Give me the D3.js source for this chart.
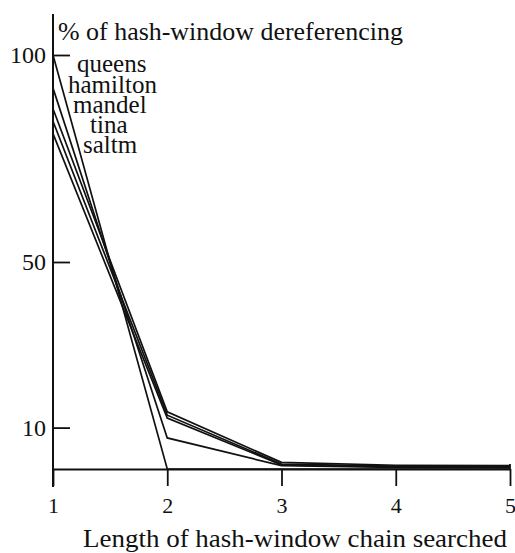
<!DOCTYPE html>
<html>
<head>
<meta charset="utf-8">
<script src="https://cdn.jsdelivr.net/npm/d3@7"></script>
<style>
  html, body { margin: 0; padding: 0; background: #fff; }
  svg { display: block; }
  text { font-family: "Liberation Serif", "Times New Roman", serif; fill: #111; }
</style>
</head>
<body>
<svg id="chart" width="515" height="553"></svg>
<script>
// ---- data ----
const chainLength = [1, 2, 3, 4, 5];
const queens   = [100, 0,    0,   0,   0];
const hamilton = [92,  7.5,  0.8, 0.4, 0.3];
const mandel   = [87,  13.8, 1.6, 0.9, 0.8];
const tina     = [84,  13.0, 1.2, 0.7, 0.6];
const saltm    = [81,  12.3, 1.0, 0.5, 0.5];
const seriesNames = ["queens", "hamilton", "mandel", "tina", "saltm"];
const yTickValues = [10, 50, 100];
const xTickValues = [1, 2, 3, 4, 5];
const titleText = "% of hash-window dereferencing";
const xLabelText = "Length of hash-window chain searched";

const seriesValues = [queens, hamilton, mandel, tina, saltm];

const svg = d3.select("#chart");
const x = d3.scaleLinear().domain([1, 5]).range([53, 510]);
const y = d3.scaleLinear().domain([0, 100]).range([469, 55]);

// y axis (ticks pointing inward)
const yAxis = d3.axisLeft(y).tickValues(yTickValues).tickSizeInner(-17).tickSizeOuter(0).tickPadding(7);
const gy = svg.append("g").attr("transform", `translate(${x(1)},0)`).call(yAxis);
gy.select(".domain").remove();
gy.selectAll(".tick line").attr("stroke", "#111").attr("stroke-width", 1.8);
gy.selectAll(".tick text").attr("font-size", 24).attr("font-family", "Liberation Serif").attr("fill", "#111");
svg.append("line").attr("x1", x(1)).attr("x2", x(1)).attr("y1", 14).attr("y2", 487)
  .attr("stroke", "#111").attr("stroke-width", 2);

// x axis
const xAxis = d3.axisBottom(x).tickValues(xTickValues).tickFormat(d3.format("d")).tickSizeInner(17).tickSizeOuter(0);
const gx = svg.append("g").attr("transform", `translate(0,${y(0)})`).call(xAxis);
gx.select(".domain").attr("stroke", "#111").attr("stroke-width", 2);
gx.selectAll(".tick line").attr("stroke", "#111").attr("stroke-width", 1.8);
gx.selectAll(".tick text").attr("font-size", 22).attr("font-family", "Liberation Serif").attr("fill", "#111")
  .attr("y", 44).attr("dy", 0);
svg.append("line").attr("x1", x(5)).attr("x2", x(5)).attr("y1", y(0)).attr("y2", y(0) - 5)
  .attr("stroke", "#111").attr("stroke-width", 1.8);

// series lines
const line = d3.line().x((d, i) => x(chainLength[i])).y(d => y(d));
svg.append("g").selectAll("path").data(seriesValues).join("path")
  .attr("d", d => line(d))
  .attr("fill", "none").attr("stroke", "#111").attr("stroke-width", 1.7)
  .attr("stroke-linejoin", "miter");

// labels
svg.append("text").attr("x", 58).attr("y", 40).attr("font-size", 25)
  .attr("textLength", 345).attr("lengthAdjust", "spacingAndGlyphs").text(titleText);

const labelPos = [[77, 72], [68, 93], [73, 113], [90, 133], [83, 153]];
svg.append("g").selectAll("text").data(seriesNames).join("text")
  .attr("x", (d, i) => labelPos[i][0]).attr("y", (d, i) => labelPos[i][1])
  .attr("font-size", 25).text(d => d);

svg.append("text").attr("x", 83).attr("y", 547).attr("font-size", 25)
  .attr("textLength", 424).attr("lengthAdjust", "spacingAndGlyphs").text(xLabelText);
</script>
</body>
</html>
